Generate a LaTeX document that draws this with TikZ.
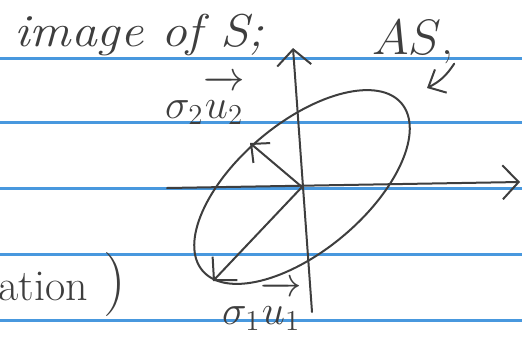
\documentclass[tikz,border=0pt]{standalone}
\usepackage{xcolor}
\usepackage{tikz}
\usepackage{amsmath}
\usetikzlibrary{arrows.meta}
\usetikzlibrary{calc}
\usetikzlibrary{arrows,shapes,positioning}

\definecolor{ruleblue}{RGB}{72,152,222}
\definecolor{pencil}{RGB}{62,62,62}

\tikzset{
    ink/.style={draw=pencil, line width=1pt, line cap=round},
    bigbarb/.style={-{Straight Barb[length=8pt,width=17pt]}},
    smallbarb/.style={-{Straight Barb[length=7pt,width=13pt]}},
    hand/.style={text=pencil, inner sep=0pt}
}

\begin{document}
\begin{tikzpicture}[x=0.5pt,y=-0.5pt]
        \useasboundingbox (0,0) rectangle (522,337);
        % ruled paper
        \foreach \y in {58,122,188,254,320} {
            \draw[ruleblue, line width=1.5pt] (0,\y) -- (522,\y);
        }
        % axes
        \coordinate (O) at (302,187);
        \coordinate (vbot) at (312,312);
        \coordinate (vtop) at (293,48);
        \coordinate (hleft) at (167,188);
        \coordinate (hright) at (520,182);
        \draw[ink, bigbarb] (vbot) -- (vtop);
        \draw[ink, bigbarb] (hleft) -- (hright);
        % image of the unit circle
        \draw[ink, rotate around={40:(O)}] (O) ellipse [x radius=65pt, y radius=32pt];
        \coordinate (u1tip) at (213,281);
        \coordinate (u2tip) at (250,143);
        \draw[ink, bigbarb] (O) -- (u1tip);
        \draw[ink, smallbarb] (O) -- (u2tip);
        % labels
        \node[hand, anchor=base west, font=\fontsize{23}{27}\selectfont\itshape] (title) at (14,46) {\scalebox{1.12}[1]{image of S;}};
        \node[hand, anchor=base west, font=\fontsize{24}{28}\selectfont] (AS) at (372,54) {$AS$,};
        \coordinate (aspoint) at (427,88);
        \draw[ink, smallbarb] (AS.south east) to[bend left=15] (aspoint);
        \node[hand, font=\fontsize{22}{26}\selectfont] (s2u2) at (205,100) {$\sigma_2\overrightarrow{\vphantom{T}u_2}$};
        \node[hand, font=\fontsize{22}{26}\selectfont] (s1u1) at (262,306) {$\sigma_1\overrightarrow{\vphantom{T}u_1}$};
        \node[hand, anchor=base west, font=\fontsize{22}{26}\selectfont] (tail) at (-2,300) {ation\hspace{8pt}{\fontsize{32}{34}\selectfont)}};
    \end{tikzpicture}
\end{document}
